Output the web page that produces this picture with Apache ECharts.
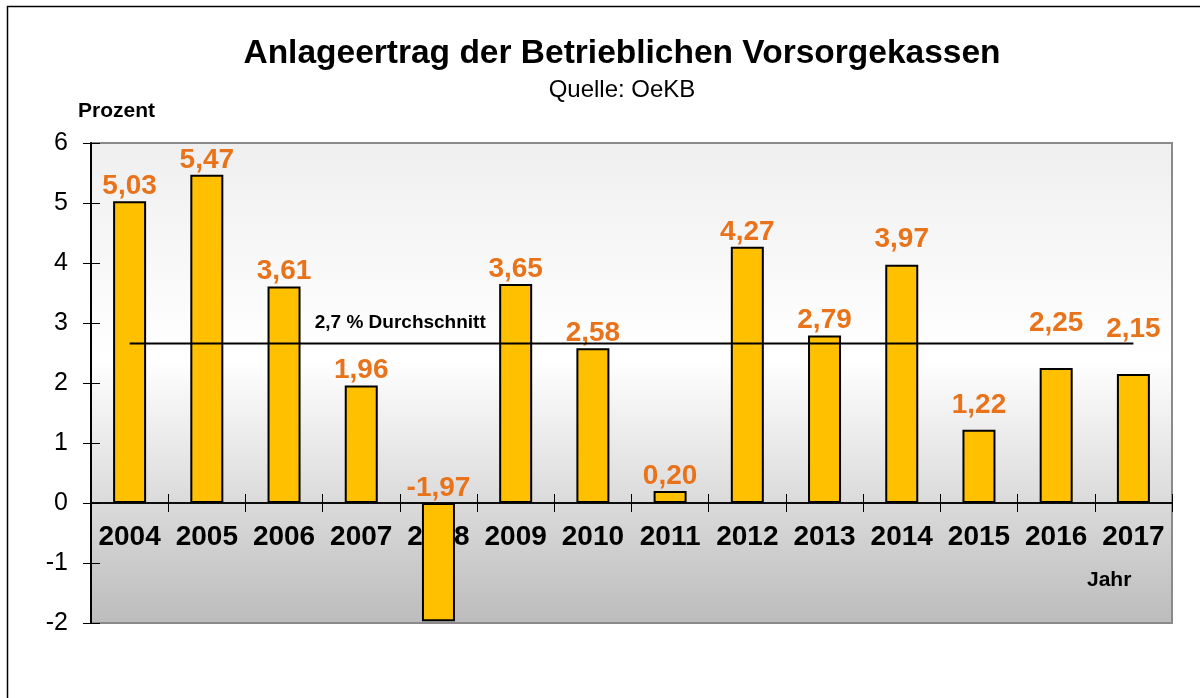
<!DOCTYPE html>
<html>
<head>
<meta charset="utf-8">
<script src="https://cdn.jsdelivr.net/npm/echarts@6/dist/echarts.min.js"></script>
<style>
html,body{margin:0;padding:0;background:#fff;}
#chart{width:1200px;height:698px;}
</style>
</head>
<body>
<div id="chart"></div>
<script>
// ---- data ----
const years = ['2004','2005','2006','2007','2008','2009','2010','2011','2012','2013','2014','2015','2016','2017'];
const returns = [5.03, 5.47, 3.61, 1.96, -1.97, 3.65, 2.58, 0.20, 4.27, 2.79, 3.97, 1.22, 2.25, 2.15];
const averageValue = 2.66;
const averageText = '2,7 % Durchschnitt';
const yMin = -2;
const yMax = 6;
const yStep = 1;
const titleText = 'Anlageertrag der Betrieblichen Vorsorgekassen';
const subtitleText = 'Quelle: OeKB';
const yAxisTitle = 'Prozent';
const xAxisTitle = 'Jahr';

// ---- chart ----
const FONT = '"Liberation Sans", Arial, Helvetica, sans-serif';
const chart = echarts.init(document.getElementById('chart'), null, {renderer: 'canvas'});

const fmt = v => v.toFixed(2).replace('.', ',');
// a few value labels sit higher than the default position in the original
const labelLift = {'2014': -11, '2015': -10, '2016': -30, '2017': -30};

const barData = returns.map((v, i) => {
  const item = {value: v};
  if (labelLift[years[i]] != null) item.label = {offset: [0, labelLift[years[i]]]};
  return item;
});

const avgData = years.map((y, i) => {
  const item = {value: averageValue};
  if (i === 3) {
    item.label = {
      show: true, position: 'top', distance: 11, offset: [39, 0],
      formatter: averageText, color: '#000', fontSize: 19, fontWeight: 'bold', fontFamily: FONT
    };
  }
  return item;
});

// grid geometry
const GRID = {left: 91, right: 28, top: 143, bottom: 75};
// Labels in ECharts v6 stay at the grid edge; shift them up to sit just below the zero line.
const plotH = 698 - GRID.top - GRID.bottom;
const zeroFromBottom = plotH * (0 - yMin) / (yMax - yMin);

const option = {
  animation: false,
  backgroundColor: '#fff',
  textStyle: {fontFamily: FONT},
  grid: Object.assign({
    outerBoundsMode: 'none',
    show: true,
    borderColor: '#8a8a8a', borderWidth: 2,
    backgroundColor: new echarts.graphic.LinearGradient(0, 0, 0, 1, [
      {offset: 0, color: '#efefef'},
      {offset: 0.45, color: '#ffffff'},
      {offset: 1, color: '#bcbcbc'}
    ])
  }, GRID),
  xAxis: [
    {
      type: 'category', data: years,
      axisLine: {show: true, onZero: true, lineStyle: {color: '#000', width: 1.5}},
      axisTick: {show: true, inside: false, length: 9, lineStyle: {color: '#000', width: 1}},
      axisLabel: {show: true, interval: 0, margin: 20 - zeroFromBottom, color: '#000', fontSize: 28, fontWeight: 'bold', fontFamily: FONT},
      splitLine: {show: false}
    },
    {
      type: 'category', data: years, position: 'bottom',
      axisLine: {show: true, onZero: true, onZeroAxisIndex: 0, lineStyle: {color: '#000', width: 1.5}},
      axisTick: {show: true, inside: true, length: 9, lineStyle: {color: '#000', width: 1}},
      axisLabel: {show: false},
      splitLine: {show: false}
    }
  ],
  yAxis: [
    {
      type: 'value', min: yMin, max: yMax, interval: yStep, position: 'left',
      axisLine: {show: true, lineStyle: {color: '#000', width: 2}},
      axisTick: {show: true, inside: false, length: 8, lineStyle: {color: '#000', width: 1}},
      axisLabel: {show: true, margin: 23, color: '#000', fontSize: 25, fontFamily: FONT},
      splitLine: {show: false}
    },
    {
      type: 'value', min: yMin, max: yMax, interval: yStep, position: 'left',
      axisLine: {show: false},
      axisTick: {show: true, inside: true, length: 9, lineStyle: {color: '#000', width: 1}},
      axisLabel: {show: false},
      splitLine: {show: false}
    }
  ],
  series: [
    {
      type: 'bar', data: barData, barWidth: 33, xAxisIndex: 0, yAxisIndex: 0,
      itemStyle: {color: '#FFC000', borderColor: '#000', borderWidth: 2},
      label: {
        show: true, position: 'top', distance: 1,
        formatter: p => fmt(p.value),
        color: '#E8731A', fontSize: 28, fontWeight: 'bold', fontFamily: FONT
      },
      emphasis: {disabled: true}
    },
    {
      type: 'line', data: avgData, xAxisIndex: 0, yAxisIndex: 0, z: 5,
      symbol: 'circle', symbolSize: 0, showSymbol: true,
      lineStyle: {color: '#000', width: 2},
      itemStyle: {color: '#000'},
      label: {show: false},
      emphasis: {disabled: true}
    }
  ],
  graphic: [
    {type: 'rect', silent: true, shape: {x: 7.5, y: 6.5, width: 1300, height: 800},
     style: {fill: 'none', stroke: '#000', lineWidth: 1.5}},
    {type: 'text', x: 622, y: 54, silent: true,
     style: {text: titleText, align: 'center', verticalAlign: 'middle', fill: '#000',
             font: 'bold 33.5px ' + FONT}},
    {type: 'text', x: 622, y: 90, silent: true,
     style: {text: subtitleText, align: 'center', verticalAlign: 'middle', fill: '#000',
             font: '24px ' + FONT}},
    {type: 'text', x: 78, y: 111, silent: true,
     style: {text: yAxisTitle, align: 'left', verticalAlign: 'middle', fill: '#000',
             font: 'bold 21px ' + FONT}},
    {type: 'text', x: 1087, y: 580, silent: true,
     style: {text: xAxisTitle, align: 'left', verticalAlign: 'middle', fill: '#000',
             font: 'bold 21px ' + FONT}, z: 10}
  ]
};

chart.setOption(option);
</script>
</body>
</html>
